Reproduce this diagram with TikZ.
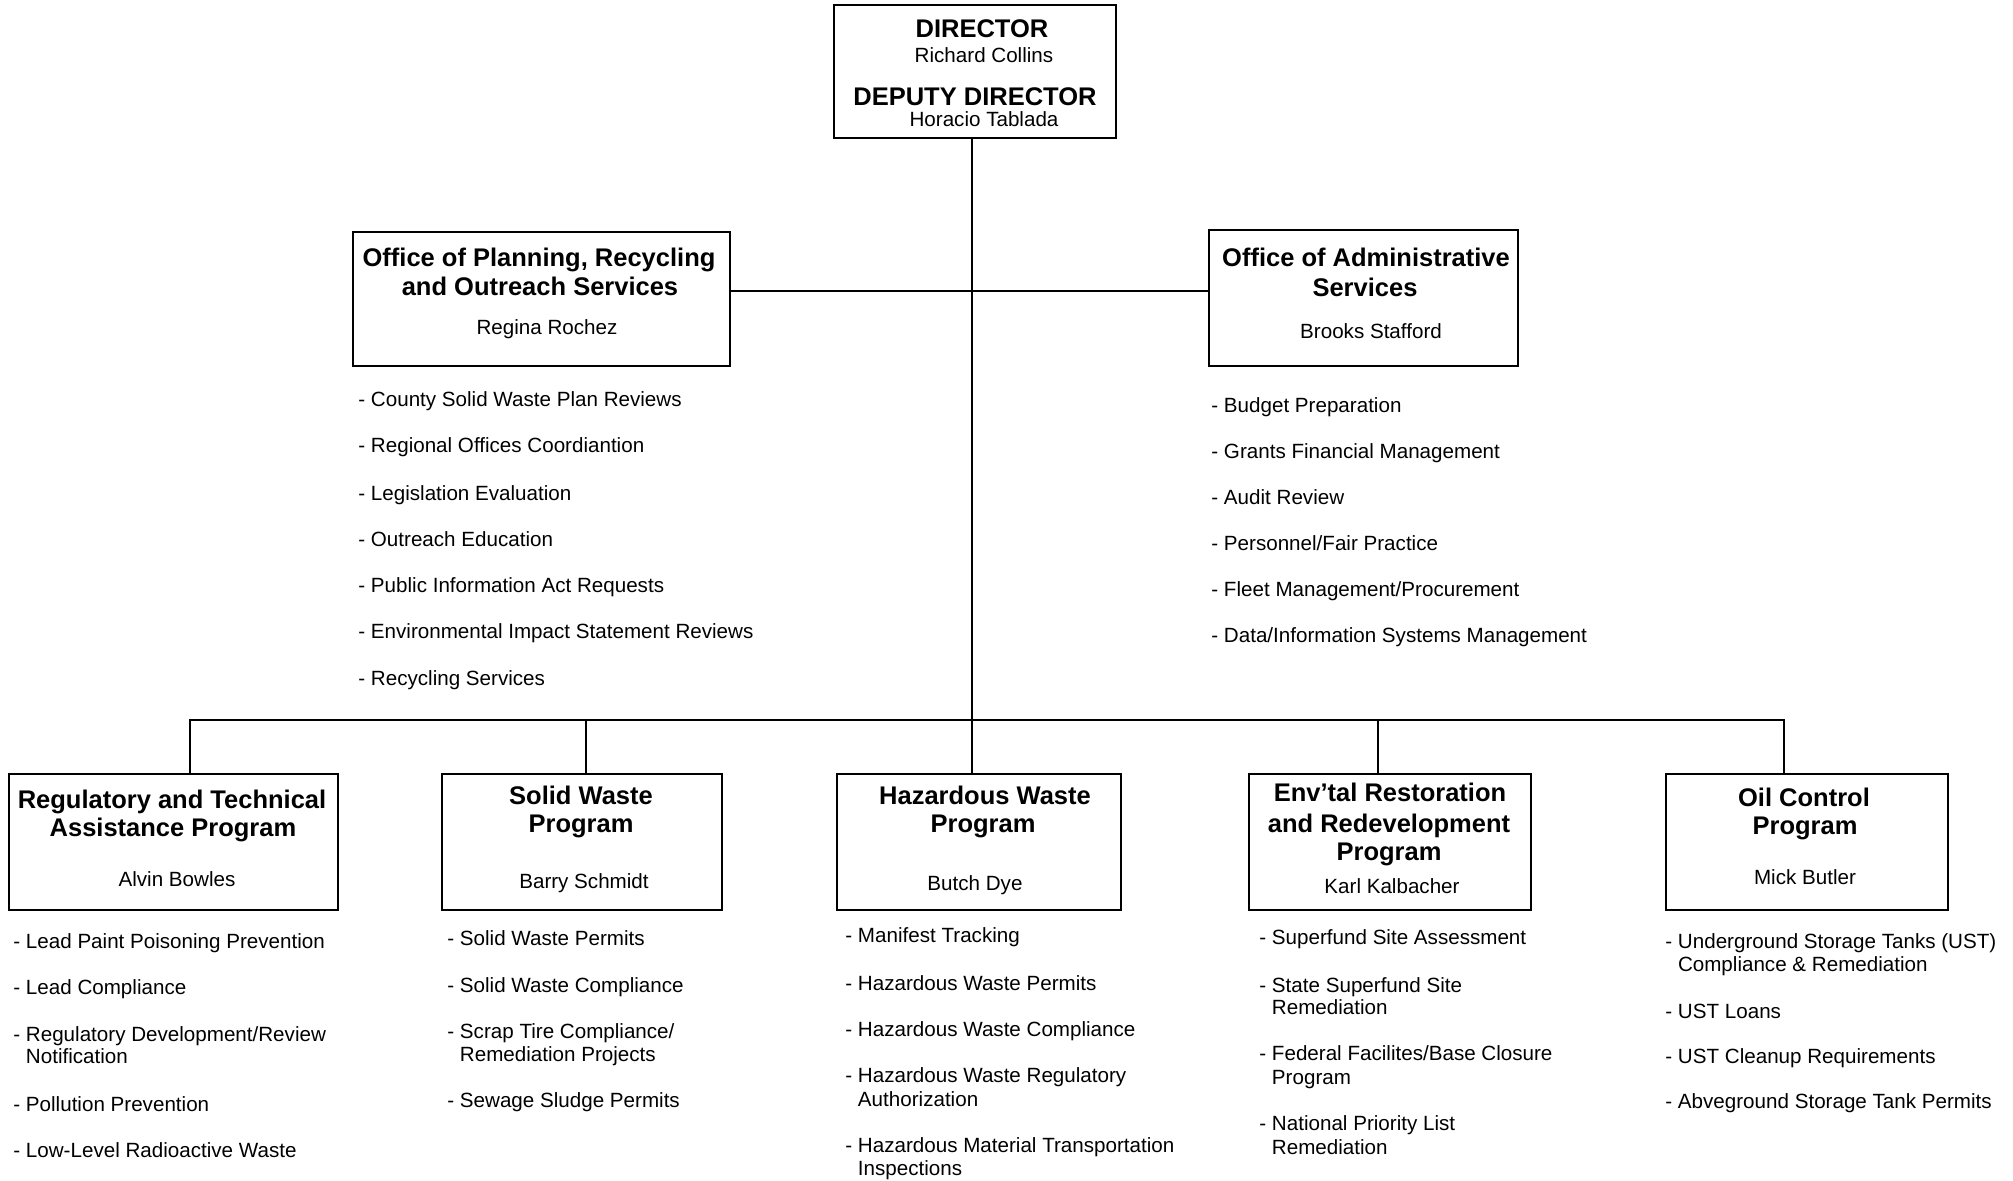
\documentclass[tikz,border=0pt]{standalone}
\usepackage{fontspec}
\setmainfont{Liberation Sans}
\usetikzlibrary{fit}
\newcommand\orghd[4]{\node[hd] (#1) at (#2,#3) {#4};}
\newcommand\orgnm[4]{\node[nm] (#1) at (#2,#3) {#4};}
\newcommand\orgli[4]{\node[it] (#1) at (#2,#3) {#4};}
\newcommand\orglc[4]{\node[it] (#1) at (#2,#3) {\hphantom{- }#4};}
\begin{document}
\begin{tikzpicture}[x=0.5pt,y=-0.5pt,
  box/.style={draw=black, line width=1pt, fill=white, inner sep=0pt},
  conn/.style={draw=black, line width=1pt, line join=miter},
  hd/.style={font=\fontsize{12.75}{14}\selectfont\bfseries, text height=9.1pt, text depth=0pt, inner sep=0pt, anchor=center},
  nm/.style={font=\fontsize{10.3}{12}\selectfont, text height=7.4pt, text depth=0pt, inner sep=0pt, anchor=center},
  it/.style={nm, anchor=west}]
\useasboundingbox (0,0) rectangle (2013,1180);
\fill[white] (0,0) rectangle (2013,1180);

% boxes
\node[box, fit={(834,5) (1116,138)}] (dir) {};
\node[box, fit={(353,232) (730,366)}] (plan) {};
\node[box, fit={(1209,230) (1518,366)}] (adm) {};
\node[box, fit={(9,774) (338,910)}] (rta) {};
\node[box, fit={(442,774) (722,910)}] (sw) {};
\node[box, fit={(837,774) (1121,910)}] (hw) {};
\node[box, fit={(1249,774) (1531,910)}] (er) {};
\node[box, fit={(1666,774) (1948,910)}] (oc) {};

% connectors
\coordinate (t) at (972,720);
\coordinate (ho) at (972,291);
\coordinate (bl) at (190,720);
\coordinate (b2) at (586,720);
\coordinate (b4) at (1378,720);
\coordinate (br) at (1784,720);
\draw[conn] (dir.south -| t) -- (t);
\draw[conn] (plan.east |- ho) -- (adm.west |- ho);
\draw[conn] (bl |- rta.north) -- (bl) -- (br) -- (br |- oc.north);
\draw[conn] (b2) -- (b2 |- sw.north);
\draw[conn] (t) -- (t |- hw.north);
\draw[conn] (b4) -- (b4 |- er.north);

% director
\orghd{d1}{982}{28}{DIRECTOR}
\orgnm{d2}{984}{55}{Richard Collins}
\orghd{d3}{975}{96}{DEPUTY DIRECTOR}
\orgnm{d4}{984}{119}{Horacio Tablada}

% planning office
\orghd{p1}{539}{257}{Office of Planning, Recycling}
\orghd{p2}{540}{286}{and Outreach Services}
\orgnm{p3}{547}{327}{Regina Rochez}
\orgli{pl1}{358}{399}{- County Solid Waste Plan Reviews}
\orgli{pl2}{358}{445}{- Regional Offices Coordiantion}
\orgli{pl3}{358}{493}{- Legislation Evaluation}
\orgli{pl4}{358}{539}{- Outreach Education}
\orgli{pl5}{358}{585}{- Public Information Act Requests}
\orgli{pl6}{358}{631}{- Environmental Impact Statement Reviews}
\orgli{pl7}{358}{678}{- Recycling Services}

% administrative office
\orghd{a1}{1366}{257}{Office of Administrative}
\orghd{a2}{1365}{287}{Services}
\orgnm{a3}{1371}{331}{Brooks Stafford}
\orgli{al1}{1211}{405}{- Budget Preparation}
\orgli{al2}{1211}{451}{- Grants Financial Management}
\orgli{al3}{1211}{497}{- Audit Review}
\orgli{al4}{1211}{543}{- Personnel/Fair Practice}
\orgli{al5}{1211}{589}{- Fleet Management/Procurement}
\orgli{al6}{1211}{635}{- Data/Information Systems Management}

% regulatory and technical
\orghd{r1}{172}{799}{Regulatory and Technical}
\orghd{r2}{173}{827}{Assistance Program}
\orgnm{r3}{177}{879}{Alvin Bowles}
\orgli{rl1}{13}{941}{- Lead Paint Poisoning Prevention}
\orgli{rl2}{13}{987}{- Lead Compliance}
\orgli{rl3}{13}{1034}{- Regulatory Development/Review}
\orglc{rl3b}{13}{1056}{Notification}
\orgli{rl4}{13}{1104}{- Pollution Prevention}
\orgli{rl5}{13}{1150}{- Low-Level Radioactive Waste}

% solid waste
\orghd{s1}{581}{795}{Solid Waste}
\orghd{s2}{581}{823}{Program}
\orgnm{s3}{584}{881}{Barry Schmidt}
\orgli{sl1}{447}{938}{- Solid Waste Permits}
\orgli{sl2}{447}{985}{- Solid Waste Compliance}
\orgli{sl3}{447}{1031}{- Scrap Tire Compliance/}
\orglc{sl3b}{447}{1054}{Remediation Projects}
\orgli{sl4}{447}{1100}{- Sewage Sludge Permits}

% hazardous waste
\orghd{w1}{985}{795}{Hazardous Waste}
\orghd{w2}{983}{823}{Program}
\orgnm{w3}{975}{883}{Butch Dye}
\orgli{wl1}{845}{935}{- Manifest Tracking}
\orgli{wl2}{845}{983}{- Hazardous Waste Permits}
\orgli{wl3}{845}{1029}{- Hazardous Waste Compliance}
\orgli{wl4}{845}{1075}{- Hazardous Waste Regulatory}
\orglc{wl4b}{845}{1099}{Authorization}
\orgli{wl5}{845}{1145}{- Hazardous Material Transportation}
\orglc{wl5b}{845}{1168}{Inspections}

% environmental restoration
\orghd{e1}{1390}{792}{Env’tal Restoration}
\orghd{e2}{1389}{823}{and Redevelopment}
\orghd{e3}{1389}{851}{Program}
\orgnm{e4}{1392}{886}{Karl Kalbacher}
\orgli{el1}{1259}{937}{- Superfund Site Assessment}
\orgli{el2}{1259}{985}{- State Superfund Site}
\orglc{el2b}{1259}{1007}{Remediation}
\orgli{el3}{1259}{1053}{- Federal Facilites/Base Closure}
\orglc{el3b}{1259}{1077}{Program}
\orgli{el4}{1259}{1123}{- National Priority List}
\orglc{el4b}{1259}{1147}{Remediation}

% oil control
\orghd{o1}{1804}{797}{Oil Control}
\orghd{o2}{1805}{825}{Program}
\orgnm{o3}{1805}{877}{Mick Butler}
\orgli{ol1}{1665}{941}{- Underground Storage Tanks (UST)}
\orglc{ol1b}{1665}{964}{Compliance \& Remediation}
\orgli{ol2}{1665}{1011}{- UST Loans}
\orgli{ol3}{1665}{1056}{- UST Cleanup Requirements}
\orgli{ol4}{1665}{1101}{- Abveground Storage Tank Permits}
\end{tikzpicture}
\end{document}
